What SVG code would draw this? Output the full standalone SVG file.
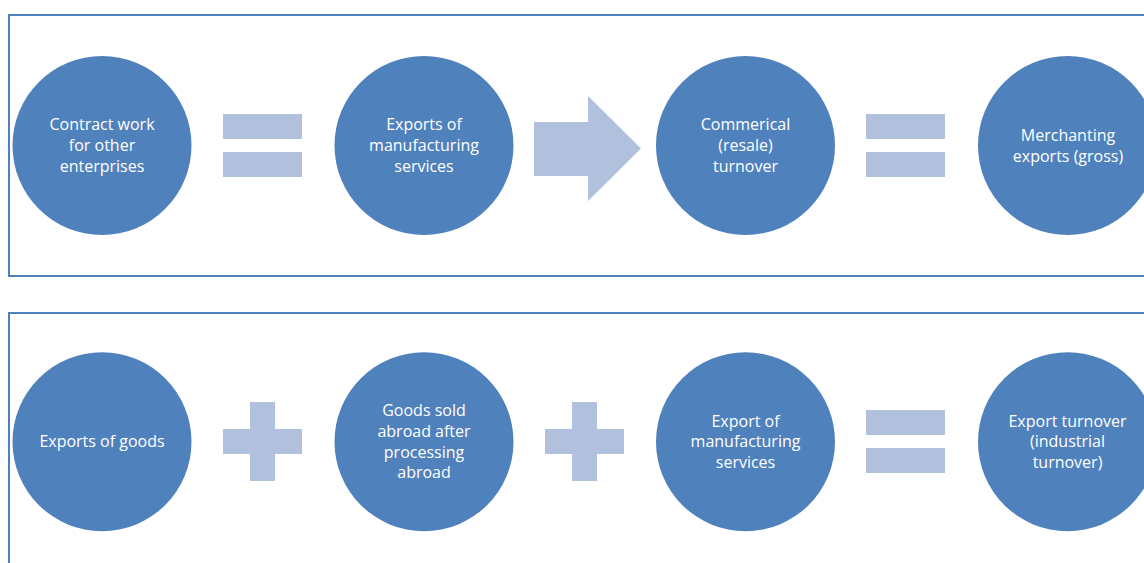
<svg xmlns="http://www.w3.org/2000/svg" width="1144" height="563" viewBox="0 0 1144 563">
<style>
.frame{fill:none;stroke:#4F81BD;stroke-width:2}
.node{fill:#4F81BD}
.op{fill:#B0C0DD}
.lbl{fill:#ffffff;font-family:"Open Sans","Noto Sans",sans-serif;font-size:16px;text-anchor:middle;dominant-baseline:central}
</style>
<rect class="frame" x="9" y="15" width="1150" height="261"/>
<rect class="frame" x="9" y="313" width="1150" height="270"/>
<g id="connectors">
<g id="eq1"><rect class="op" x="223" y="114" width="79" height="25"/><rect class="op" x="223" y="152" width="79" height="25"/></g>
<path id="arrow1" class="op" d="M534,122 H588 V96 L641,148.5 L588,201 V176 H534 Z"/>
<g id="eq2"><rect class="op" x="866" y="114" width="79" height="25"/><rect class="op" x="866" y="152" width="79" height="25"/></g>
<path id="plus1" class="op" d="M250,402 H275 V429 H302 V454 H275 V481 H250 V454 H223 V429 H250 Z"/>
<path id="plus2" class="op" d="M572,402 H597 V429 H624 V454 H597 V481 H572 V454 H545 V429 H572 Z"/>
<g id="eq3"><rect class="op" x="866" y="410" width="79" height="25"/><rect class="op" x="866" y="448" width="79" height="25"/></g>
</g>
<g id="n1"><circle class="node" cx="102" cy="145.5" r="89.5"/><text class="lbl" x="102"><tspan x="102" y="124">Contract work</tspan><tspan x="102" y="145">for other</tspan><tspan x="102" y="166">enterprises</tspan></text></g>
<g id="n2"><circle class="node" cx="424" cy="145.5" r="89.5"/><text class="lbl"><tspan x="424" y="124">Exports of</tspan><tspan x="424" y="145">manufacturing</tspan><tspan x="424" y="166">services</tspan></text></g>
<g id="n3"><circle class="node" cx="745.5" cy="145.5" r="89.5"/><text class="lbl"><tspan x="745.5" y="124">Commerical</tspan><tspan x="745.5" y="145">(resale)</tspan><tspan x="745.5" y="166">turnover</tspan></text></g>
<g id="n4"><circle class="node" cx="1067.5" cy="145.5" r="89.5"/><text class="lbl"><tspan x="1068" y="135">Merchanting</tspan><tspan x="1068" y="156">exports (gross)</tspan></text></g>
<g id="n5"><circle class="node" cx="102" cy="441.7" r="89.5"/><text class="lbl"><tspan x="102" y="441">Exports of goods</tspan></text></g>
<g id="n6"><circle class="node" cx="424" cy="441.7" r="89.5"/><text class="lbl"><tspan x="424" y="410">Goods sold</tspan><tspan x="424" y="431">abroad after</tspan><tspan x="424" y="452">processing</tspan><tspan x="424" y="472">abroad</tspan></text></g>
<g id="n7"><circle class="node" cx="745.5" cy="441.7" r="89.5"/><text class="lbl"><tspan x="745.5" y="421">Export of</tspan><tspan x="745.5" y="441">manufacturing</tspan><tspan x="745.5" y="462">services</tspan></text></g>
<g id="n8"><circle class="node" cx="1067.5" cy="441.7" r="89.5"/><text class="lbl"><tspan x="1067.5" y="421">Export turnover</tspan><tspan x="1067.5" y="441">(industrial</tspan><tspan x="1067.5" y="462">turnover)</tspan></text></g>
</svg>
